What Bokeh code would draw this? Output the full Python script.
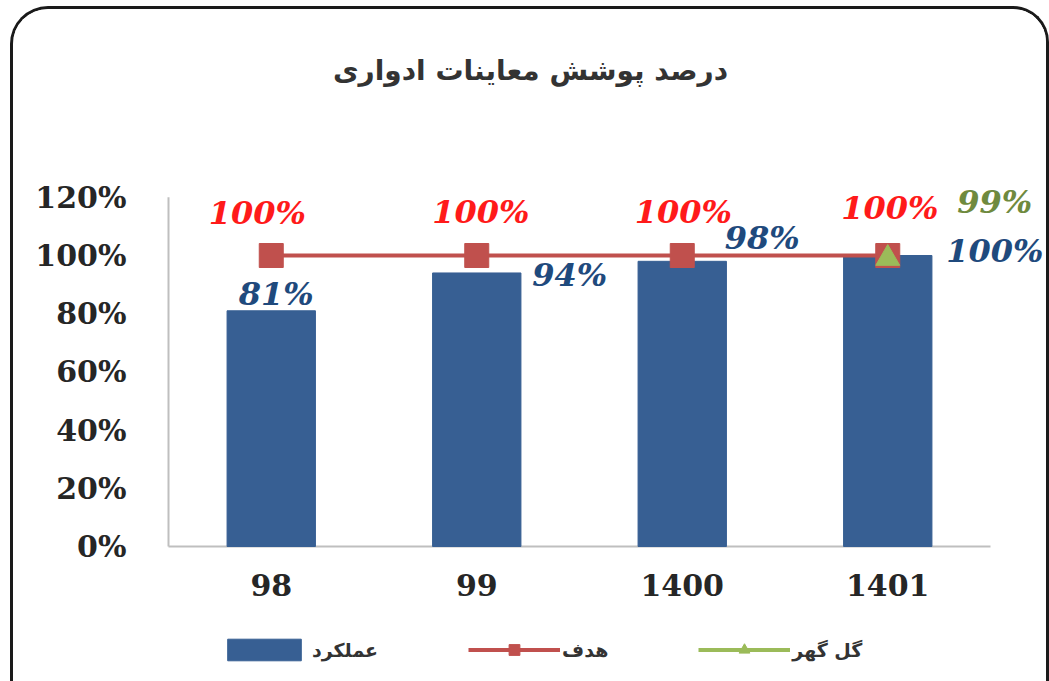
from bokeh.plotting import figure
from bokeh.models import (Range1d, FixedTicker, NumeralTickFormatter, Legend, LegendItem,
                          ColumnDataSource)
from bokeh.core.properties import value
from bokeh.embed import file_html
from bokeh.resources import INLINE

# ---- data ----
years = ["98", "99", "1400", "1401"]
performance = [0.81, 0.94, 0.98, 1.00]
target = [1.00, 1.00, 1.00, 1.00]
golgohar_years = ["1401"]
golgohar = [0.99]
perf_labels = ["81%", "94%", "98%", "100%"]
target_labels = ["100%", "100%", "100%", "100%"]
golgohar_labels = ["99%"]
title_text = "درصد پوشش معاینات ادواری"
legend_labels = ["عملکرد", "هدف", "گل گهر"]
y_ticks = [0, 0.2, 0.4, 0.6, 0.8, 1.0, 1.2]

# ---- label placement (pixels, styling only) ----
perf_dx = [5, 93, 80, 107]
perf_dy = [-17, 2, -23, -5]
target_dx = [-14, 4, 1, 2]
target_dy = [-43, -44, -44, -48]
gg_dx = [107]
gg_dy = [-56]

BAR = "#375F93"
RED = "#C0504D"
GREEN = "#9BBB59"

W, H = 1039, 675
AXIS_X = 155          # canvas px of the value axis
AXIS_Y = 537          # canvas px of the 0% baseline
px_per_cat = 205.5
px_per_unit = 291.0

xs = list(range(len(years)))
gx = [years.index(y) for y in golgohar_years]

x_start = -0.5 - AXIS_X / px_per_cat
x_end = -0.5 + (W - AXIS_X) / px_per_cat
y_end = AXIS_Y / px_per_unit
y_start = -(H - AXIS_Y) / px_per_unit

p = figure(width=W, height=H, output_backend="svg", toolbar_location=None,
           x_range=Range1d(x_start, x_end), y_range=Range1d(y_start, y_end),
           min_border=0)
p.styles = {"margin-left": "10px", "margin-top": "6px",
            "border-top": "3px solid #1a1a1a", "border-left": "3px solid #1a1a1a",
            "border-right": "3px solid #1a1a1a", "border-top-left-radius": "38px",
            "border-top-right-radius": "36px", "overflow": "hidden"}
p.outline_line_color = None
p.xgrid.visible = False
p.ygrid.visible = False
p.background_fill_color = "white"
p.border_fill_color = "white"

# axes placed inside the frame
p.yaxis.fixed_location = -0.5
p.yaxis.ticker = FixedTicker(ticks=y_ticks)
p.yaxis.formatter = NumeralTickFormatter(format="0%")
p.yaxis.axis_line_color = None
p.yaxis.major_tick_line_color = None
p.yaxis.minor_tick_line_color = None
p.yaxis.major_label_standoff = 36
p.yaxis.major_label_text_font = "DejaVu Serif"
p.yaxis.major_label_text_font_style = "bold"
p.yaxis.major_label_text_font_size = "30px"
p.yaxis.major_label_text_color = "#262626"

p.xaxis.fixed_location = 0
p.xaxis.ticker = FixedTicker(ticks=xs)
p.xaxis.major_label_overrides = {i: y for i, y in zip(xs, years)}
p.xaxis.axis_line_color = None
p.xaxis.major_tick_line_color = None
p.xaxis.minor_tick_line_color = None
p.xaxis.major_label_standoff = 21
p.xaxis.major_label_text_font = "DejaVu Serif"
p.xaxis.major_label_text_font_style = "bold"
p.xaxis.major_label_text_font_size = "30px"
p.xaxis.major_label_text_color = "#262626"

# axis lines
p.segment(x0=[-0.5], y0=[0], x1=[len(years) - 0.5], y1=[0], line_color="#BFBFBF", line_width=2)
p.segment(x0=[-0.5], y0=[0], x1=[-0.5], y1=[y_ticks[-1]], line_color="#BFBFBF", line_width=2)

bars = p.vbar(x=xs, top=performance, width=0.43, fill_color=BAR, line_color=BAR)
tline = p.line(x=xs, y=target, line_color=RED, line_width=4)
tsq = p.scatter(x=xs, y=target, marker="square", size=24, fill_color=RED, line_color=RED)
gline = p.line(x=gx, y=golgohar, line_color=GREEN, line_width=4)
gtri = p.scatter(x=gx, y=golgohar, marker="triangle", size=24, fill_color=GREEN, line_color=GREEN)

lab_font = value("DejaVu Serif")
src_p = ColumnDataSource(dict(x=xs, y=performance, t=perf_labels, dx=perf_dx, dy=perf_dy))
p.text(x="x", y="y", text="t", x_offset="dx", y_offset="dy", source=src_p,
       text_font=lab_font, text_font_style="bold italic", text_font_size="32px",
       text_color="#1F4A7D", text_align="center", text_baseline="middle")
src_t = ColumnDataSource(dict(x=xs, y=target, t=target_labels, dx=target_dx, dy=target_dy))
p.text(x="x", y="y", text="t", x_offset="dx", y_offset="dy", source=src_t,
       text_font=lab_font, text_font_style="bold italic", text_font_size="32px",
       text_color="#FF1A1A", text_align="center", text_baseline="middle")
src_g = ColumnDataSource(dict(x=gx, y=golgohar, t=golgohar_labels, dx=gg_dx, dy=gg_dy))
p.text(x="x", y="y", text="t", x_offset="dx", y_offset="dy", source=src_g,
       text_font=lab_font, text_font_style="bold italic", text_font_size="32px",
       text_color="#6F8A3E", text_align="center", text_baseline="middle")

# title
tx = -0.5 + (517 - AXIS_X) / px_per_cat
ty = (AXIS_Y - 61) / px_per_unit
p.text(x=[tx], y=[ty], text=[title_text], text_font=value("DejaVu Sans"),
       text_font_style="bold", text_font_size="28px", text_color="#333333",
       text_align="center", text_baseline="middle")

legend = Legend(items=[LegendItem(label=legend_labels[0], renderers=[bars]),
                       LegendItem(label=legend_labels[1], renderers=[tline, tsq]),
                       LegendItem(label=legend_labels[2], renderers=[gline, gtri])],
                orientation="horizontal", location=(205, 21), padding=0, margin=0,
                spacing=90, glyph_width=92, glyph_height=27, label_standoff=2,
                border_line_color=None, background_fill_alpha=0,
                label_text_font="DejaVu Sans", label_text_font_style="bold",
                label_text_font_size="19px", label_text_color="#333333")
p.add_layout(legend, "center")

open("out.html", "w").write(file_html(p, INLINE))
